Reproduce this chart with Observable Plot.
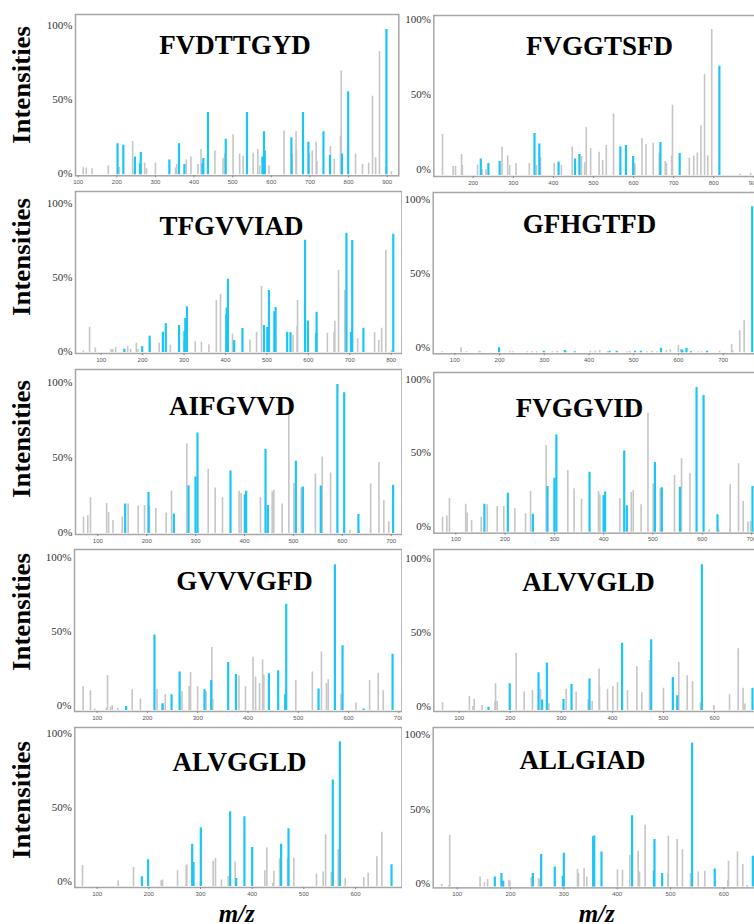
<!DOCTYPE html>
<html>
<head>
<meta charset="utf-8">
<script src="https://cdn.jsdelivr.net/npm/d3@7"></script>
<script src="https://cdn.jsdelivr.net/npm/@observablehq/plot@0.6"></script>
<style>
  html, body { margin: 0; padding: 0; background: #fff; }
  #page { position: relative; width: 754px; height: 924px; overflow: hidden; background: #fff; }
</style>
</head>
<body>
<div id="page"></div>
<script>
// ---------- DATA: [m/z, relative intensity %] ----------
const FVDTTGYD_unmatched = [[113,4.7],[121,4.5],[136,4],[178,6],[206,5],[241,22.5],[246,5],[272,8],[277,4],[300,8],[352,4.5],[355,7],[380,10],[392,12],[410,7],[418,17],[454,16],[475,11],[480,14],[501,27],[518,14],[527,12.5],[553,14.5],[565,17],[570,6],[594,6],[633,29.5],[654,14],[664,29],[665,16],[698,14],[706,16],[716,22],[718,9],[753,19],[763,10.5],[779,26],[781,70],[818,14],[836,7],[852,8],[862,53],[870,11.5],[880,83],[896,5],[911,2]];
const FVDTTGYD_matched = [[202,21],[217,20],[247,12],[260,7.5],[262,15],[336,10],[361,21],[375,7],[422,7.5],[424,11],[436,42],[482,24],[537,42],[577,12],[581,29],[583,16],[652,25],[682,42],[696,22],[735,29],[752,13],[783,14],[799,56],[898,98]];

const FVGGTSFD_unmatched = [[123.5,27.4],[150,6],[156,6],[171,14],[173,6.7],[211,7],[222,4],[232,4],[272,19],[286,13],[291,6.7],[307,8],[340,8],[358,6.7],[368,12],[402,8],[420,6.7],[447,19],[470,12.7],[478,8.5],[482,32],[493,18],[514,15.6],[523,10],[532,20],[550,41],[603,8],[621,24.5],[631,20.7],[649,21.6],[664,15],[679,9.4],[682,8],[695,13],[697,47],[739,11.6],[750,13],[759,15],[768,33],[777,67.5],[785,13],[795,97.5],[865,1],[892,1.5]];
const FVGGTSFD_matched = [[219,11],[238,8],[266,9.4],[353,28],[365,21],[413,9],[454,11],[465,14],[567,19],[581,20],[599,12.7],[667,22],[715,14.7],[814,73]];

const TFGVVIAD_unmatched = [[57,1],[72,17],[86,3],[124,2],[128,2],[135,3.4],[164,4],[171,2.2],[185,6.3],[189,2],[218,7.4],[240,6.3],[267,5],[300,8],[327,7.2],[342,7],[360,5.2],[378,35],[388,39],[417,12.4],[459,8.5],[475,13.7],[487,44.5],[563,11.5],[573,17.5],[574,35],[646,13],[662,13.3],[664,21],[673,55.5],[688,42],[719,9.2],[760,13.3],[770,8.3],[777,16.4],[787,69],[801,1.6]];
const TFGVVIAD_matched = [[156,2.2],[199,4],[217,11],[249,13.7],[256,19.5],[288,18.2],[301,14.2],[303,23],[307,30.8],[402,25.4],[403,30],[406,49.4],[421,8],[441,16.2],[493,18.2],[501,16.8],[505,41.8],[518,27.4],[521,30.3],[549,13.7],[557,13.3],[592,75.7],[599,21.3],[619,12.8],[620,27.2],[692,80.4],[703,13.7],[706,75.5],[733,16.4],[805,79.8]];

const GFHGTFD_unmatched = [[72,0.7],[114,3.4],[126,0.7],[154,1],[157,0.7],[224,0.7],[230,0.7],[262,0.7],[273,0.7],[283,0.7],[318,0.7],[329,1],[350,0.7],[403,1],[414,1],[424,1.5],[441,0.7],[485,0.7],[491,1],[530,0.7],[541,1],[552,0.7],[573,1.5],[582,2],[600,5],[645,0.7],[653,0.7],[692,1],[719,5.6],[721,1.5],[737,14.8],[747,21.8]];
const GFHGTFD_matched = [[199,3.4],[299,1],[346,1.5],[368,0.7],[446,1],[462,1],[503,1],[516,1],[561,3],[607,2],[609,1],[618,3.1],[628,0.7],[664,1],[765,98.4]];

const AIFGVVD_unmatched = [[70.7,11],[79.5,11.8],[85,23.8],[118,20],[122,14],[131,8.7],[150,11],[162,19.6],[182.5,18.2],[195.5,18.7],[205.7,18.2],[218.6,16.7],[239.8,13.6],[250.7,28.4],[282,59.6],[325.7,42.9],[340,30.4],[355,23.8],[389,28.2],[393,26.7],[432.7,24],[456.6,27.8],[460,28.9],[477,19.6],[490.7,81],[501,33.3],[516,30.4],[545,39.6],[559,51],[576,40.4],[615.5,2.2],[635,1.8],[657.7,2.7],[658,33],[675,47.3],[685,21.8],[695,7.8]];
const AIFGVVD_matched = [[156,19.6],[203.6,27.3],[255.5,13],[285.5,31.8],[299.8,37.6],[303.9,67],[371.4,41.6],[400.7,25.8],[403.4,28.2],[443,56],[447.7,18.7],[505,48.2],[519.3,31],[556,31.6],[590,99.3],[603.9,93.8],[633,12.7],[704,32.2]];

const FVGGVID_unmatched = [[73,10.2],[81.7,11],[87,23],[120,19],[123,13],[132,8],[151.4,10.2],[163.6,18.6],[184,17.5],[197.4,17.5],[206,17.5],[219.8,16],[241.4,12.5],[251.6,27.7],[283.4,59],[327.3,42],[340,29.5],[355,22.4],[389.6,27.7],[392.3,25.4],[432.9,23],[456,27],[460,28.3],[476,18.6],[489.9,81],[500.5,32.7],[514.7,29.5],[543.8,38.5],[558,50],[575,39.7],[614,1.6],[633.8,1.1],[656,1.6],[656.8,32.2],[673.7,46.5],[683.2,20.9],[692.7,7],[698,7.5]];
const FVGGVID_matched = [[158,19],[205.5,26.5],[256.3,12.2],[286,31],[300,36.7],[304,66.2],[371.3,40.8],[399.7,25],[403,27.4],[441.7,55.3],[447,18],[504,47.4],[518,30.2],[554.7,30.6],[588.5,98.4],[602.7,93],[631,11.8],[702,31]];

const GVVVGFD_unmatched = [[72,16],[86.7,13.3],[95,1],[118.6,1.6],[120.6,23.4],[126.5,2.3],[130,3.2],[141,1.6],[169.6,14],[186,7.7],[219,14.4],[229,4.3],[235.4,10.6],[268.6,12.8],[283,16.2],[285.8,25.7],[299.7,16],[316.8,12.8],[328,42.6],[330,7.2],[382,23.4],[395,16],[410,36],[415,22.7],[423,18.2],[429,34.2],[431.6,24],[495,20.3],[528,26],[546,39.6],[556,18.2],[559.5,20.7],[585,11],[614.6,5],[641.8,20.3],[659,25.2],[669,13.3]];
const GVVVGFD_matched = [[157.7,2.7],[214,51],[230.3,4.5],[248,10.6],[264,26],[313.5,14],[326.8,20.3],[360.6,32.4],[376,24.3],[441.5,24.8],[460,26.8],[474,10.6],[476,71.8],[540.3,14.6],[572.8,98.4],[588,43.7],[630,1],[687.5,38]];

const ALVVGLD_unmatched = [[67.4,5.2],[120,9.4],[126.8,2.7],[129.4,7.6],[145,3.4],[170,5.6],[171.2,18],[174.4,6],[211.6,38.6],[227.3,12.4],[243.6,13.5],[259.3,14.4],[275.6,4.5],[309.5,14.4],[329,12.4],[352.6,7.2],[360.4,6],[374,27.9],[374.7,16],[390.5,14.4],[401,16.2],[410,18.7],[429.6,13.3],[448,29.4],[457.6,12],[472.7,33.7],[500,15],[530,32.4],[546.5,23.4],[557,19.6],[572.6,5],[598.7,3.4],[629.4,10.6],[646.4,41.6],[656,15],[659.5,4.3]];
const ALVVGLD_matched = [[157.4,2.2],[199,18],[255.4,25.4],[262.5,7],[271.7,32],[304.3,7.4],[320,17.5],[355.2,21.3],[419,45.4],[476,47.6],[518.4,22.2],[527,10],[575.2,98.2],[674.4,15]];

const ALVGGLD_unmatched = [[71.6,14.2],[140.6,3.8],[170.3,12.8],[223.9,3.8],[226.5,4.3],[255.5,10.6],[272.3,14],[273.5,14.6],[324.5,17],[329,18.9],[340.6,4.3],[353.5,6.7],[367,16.6],[424.5,10.6],[428.4,26],[440,2.2],[442,10.3],[453,18.7],[468.4,18.7],[480.6,19.1],[524.5,8.5],[537.4,9.7],[542,34.8],[553,9.4],[566.5,24.7],[580,5.4],[616,6],[624.5,9],[641.3,20],[651,36.6]];
const ALVGGLD_matched = [[186.5,6.5],[198.7,18],[283.9,28.5],[286.5,16.2],[300.6,39.6],[357.4,50.3],[369,5.4],[385,47],[400,26.3],[456,28.5],[470.3,38.9],[556,71.7],[569.7,97.5],[669.7,14.6]];

const ALLGIAD_unmatched = [[71,1.6],[84,0.7],[86,34.7],[143,6.7],[151,2.9],[157,4.9],[187.5,4],[197,4.5],[199,3.8],[239,6.3],[252.5,5.6],[254.4,5.1],[325.6,11.9],[327.5,9],[338,12.3],[343,6.7],[400.6,11.4],[410,11.2],[423.7,21.3],[439.4,24],[441.9,10],[452.5,41.4],[495,8.5],[496,34],[512.5,31.8],[522.5,25],[537.5,9],[552,10],[564.4,10.5],[607.5,4.5],[608.8,17.2],[625.6,23.5],[635.6,15],[643.8,1]];
const ALLGIAD_matched = [[170.6,6.7],[183,9],[185.6,3.8],[241.9,9],[257.5,21.7],[283,13.4],[298,7.2],[300,22.6],[355,33.6],[357,34.2],[370.6,23.5],[428,47.7],[468.8,10.7],[470,31.8],[484.4,9],[540.6,96.6],[583,12],[654.4,20.6]];

const yTicks = [0, 50, 100];
const yLabel = "Intensities";
const xLabel = "m/z";

// ---------- LAYOUT (page pixels) ----------
const panels = [
  {name:"FVDTTGYD", unmatched:FVDTTGYD_unmatched, matched:FVDTTGYD_matched, col:0, fl:75,   fr:398.3, ft:14,    fb:175.3, base:174.3, y100:26,    tick:100, tickPx:77.67,  ppu:0.3863, yOff:1, tx:234.5, tb:43.3},
  {name:"FVGGTSFD", unmatched:FVGGTSFD_unmatched, matched:FVGGTSFD_matched, col:1, fl:433.3, fr:775,   ft:15,    fb:176,   base:175,   y100:25.3,  tick:200, tickPx:472.67, ppu:0.401,  yOff:6, tx:599,   tb:44.3},
  {name:"TFGVVIAD", unmatched:TFGVVIAD_unmatched, matched:TFGVVIAD_matched, col:0, fl:75,   fr:401.5, ft:191.3, fb:353.3, base:352.3, y100:204,   tick:100, tickPx:100.67, ppu:0.4143, yOff:1, tx:231,   tb:224.7},
  {name:"GFHGTFD",  unmatched:GFHGTFD_unmatched,  matched:GFHGTFD_matched,  col:1, fl:432.7, fr:775,   ft:192,   fb:353.3, base:352.3, y100:204,   tick:100, tickPx:454.33, ppu:0.4472, yOff:5, tx:589,   tb:222},
  {name:"AIFGVVD",  unmatched:AIFGVVD_unmatched,  matched:AIFGVVD_matched,  col:0, fl:75,   fr:401.5, ft:368.7, fb:533.7, base:532.7, y100:382.7, tick:100, tickPx:97.33,  ppu:0.4889, yOff:1, tx:231.5, tb:403.7},
  {name:"FVGGVID",  unmatched:FVGGVID_unmatched,  matched:FVGGVID_matched,  col:1, fl:433.3, fr:775,   ft:372,   fb:532.7, base:531.7, y100:384.7, tick:100, tickPx:455.33, ppu:0.4928, yOff:6, tx:579,   tb:406},
  {name:"GVVVGFD",  unmatched:GVVVGFD_unmatched,  matched:GVVVGFD_matched,  col:0, fl:74,   fr:401.5, ft:548.7, fb:710.7, base:709.7, y100:561.7, tick:100, tickPx:96.67,  ppu:0.5028, yOff:5, tx:244,   tb:579},
  {name:"ALVVGLD",  unmatched:ALVVGLD_unmatched,  matched:ALVVGLD_matched,  col:1, fl:433.3, fr:775,   ft:548.7, fb:710.7, base:709.7, y100:561.3, tick:100, tickPx:458.67, ppu:0.5107, yOff:4, tx:588,   tb:580},
  {name:"ALVGGLD",  unmatched:ALVGGLD_unmatched,  matched:ALVGGLD_matched,  col:0, fl:74.3, fr:401.5, ft:726.7, fb:886.7, base:885.7, y100:737.3, tick:100, tickPx:96.67,  ppu:0.5167, yOff:5, tx:239,   tb:760},
  {name:"ALLGIAD",  unmatched:ALLGIAD_unmatched,  matched:ALLGIAD_matched,  col:1, fl:432.7, fr:775,   ft:727.3, fb:887.7, base:886.7, y100:737.7, tick:100, tickPx:456.67, ppu:0.5333, yOff:3, tx:582,   tb:758}
];

const GRAY = "#c6c6c6";
const BLUE = "#1bc6f5";
const page = document.getElementById("page");

for (const p of panels) {
  const ox = p.col === 0 ? 0 : 402;
  const w = p.col === 0 ? 402 : 380;
  const oy = p.ft - 16;
  const h = p.fb - oy + 14;
  const d0 = p.tick - (p.tickPx - p.fl) / p.ppu;
  const d1 = d0 + (p.fr - p.fl) / p.ppu;
  const xt = d3.range(Math.ceil(d0 / 100) * 100, d1 + 40, 100);
  const chart = Plot.plot({
    width: w, height: h,
    marginLeft: p.fl - ox, marginRight: ox + w - p.fr,
    marginTop: p.ft - oy, marginBottom: oy + h - p.fb,
    x: {domain: [d0, d1], axis: null},
    y: {domain: [0, 100], insetTop: p.y100 - p.ft, insetBottom: p.fb - p.base, axis: null},
    style: {position: "absolute", left: ox + "px", top: oy + "px", maxWidth: "none",
            background: "transparent", color: "#555", fontFamily: "Liberation Sans"},
    marks: [
      Plot.ruleX(p.unmatched, {x: d => d[0], y1: 0, y2: d => d[1], stroke: GRAY, strokeWidth: 1.6, clip: true}),
      Plot.ruleX(p.matched, {x: d => d[0], y1: 0, y2: d => d[1], stroke: BLUE, strokeWidth: 2.2, clip: true}),
      Plot.frame({stroke: "#a6a6a6", strokeWidth: 1.5}),
      Plot.axisX({ticks: xt, tickSize: 2, tickPadding: 2, fontSize: 6, stroke: "#888", fill: "#555", tickFormat: d => d}),
      Plot.axisY({ticks: yTicks, tickFormat: d => d + "%", tickSize: 0, tickPadding: 3, dy: -p.yOff,
                  fontSize: 11, fontFamily: "Liberation Serif", fill: "#333"}),
      Plot.text([p.name], {text: d => d, frameAnchor: "top-left", dx: p.tx - p.fl, dy: p.tb - 8.6 - p.ft,
                           textAnchor: "middle", fontSize: 27, fontWeight: "bold",
                           fontFamily: "Liberation Serif", fill: "#000"})
    ]
  });
  page.appendChild(chart);
}

// ---------- shared axis labels ----------
const overlay = d3.select(page).append("svg")
  .attr("width", 754).attr("height", 924)
  .style("position", "absolute").style("left", "0px").style("top", "0px")
  .style("pointer-events", "none");

const rowCenters = [85, 257, 439, 612, 800];
for (const cy of rowCenters) {
  overlay.append("text")
    .attr("transform", `translate(30,${cy}) rotate(-90)`)
    .attr("text-anchor", "middle")
    .attr("font-family", "Liberation Serif")
    .attr("font-weight", "bold")
    .attr("font-size", 25)
    .attr("textLength", 118)
    .attr("lengthAdjust", "spacingAndGlyphs")
    .attr("fill", "#000")
    .text(yLabel);
}
for (const cx of [236.7, 596.7]) {
  overlay.append("text")
    .attr("x", cx).attr("y", 922)
    .attr("text-anchor", "middle")
    .attr("font-family", "Liberation Serif")
    .attr("font-weight", "bold")
    .attr("font-style", "italic")
    .attr("font-size", 25)
    .attr("fill", "#000")
    .text(xLabel);
}
</script>
</body>
</html>
